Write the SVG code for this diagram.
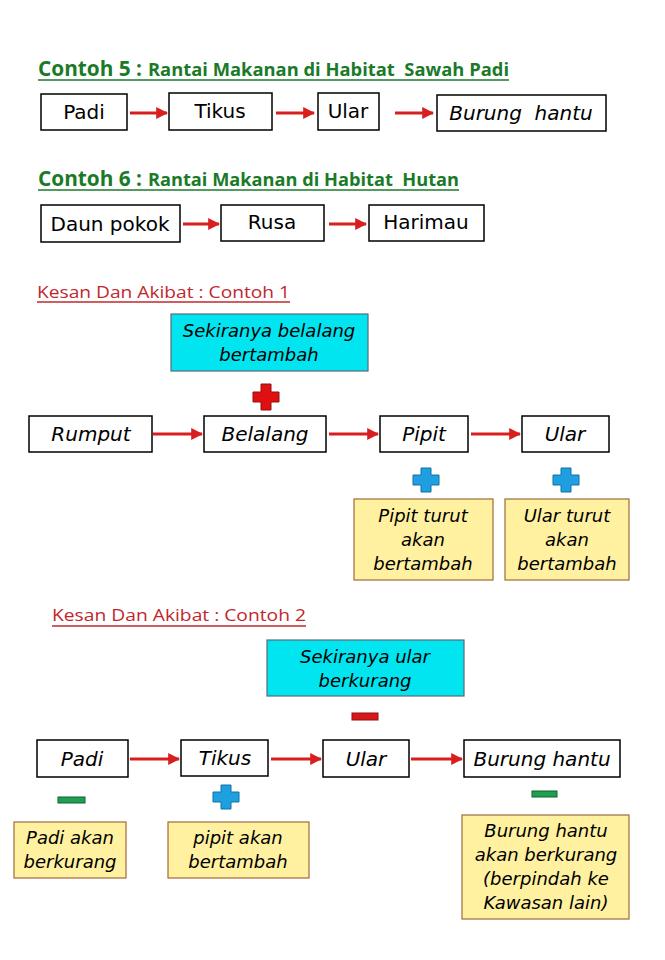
<svg xmlns="http://www.w3.org/2000/svg" width="665" height="960" viewBox="0 0 665 960">
<style>
.bg{fill:#ffffff}
.box{fill:#ffffff;stroke:#000;stroke-width:1.5}
.cyan{fill:#00e5f0;stroke:#5a6a7a;stroke-width:1.2}
.yel{fill:#fff1a0;stroke:#a06a3a;stroke-width:1.2}
.lbl{font-family:"DejaVu Sans","Open Sans",sans-serif;font-size:20px;fill:#000;text-anchor:middle;white-space:pre}
.it{font-style:italic}
.small{font-family:"DejaVu Sans","Open Sans",sans-serif;font-size:18px;fill:#000;text-anchor:middle;font-style:italic}
.green{font-family:"Open Sans","Liberation Sans",sans-serif;font-weight:bold;fill:#1a7a28;white-space:pre}
.red{font-family:"Open Sans","Liberation Sans",sans-serif;fill:#c0272d;font-size:17px}
.arrow{stroke:#d81e1e;stroke-width:3;fill:none}
.rplus{fill:#e01010;stroke:#901010;stroke-width:1}
.bplus{fill:#1ea0e0;stroke:#1070a8;stroke-width:1}
.rminus{fill:#d81818;stroke:#901010;stroke-width:1}
.gminus{fill:#1fa050;stroke:#0f6030;stroke-width:1}
</style>
<defs>
<marker id="ah" viewBox="0 0 10 10" refX="9" refY="5" markerWidth="4" markerHeight="4" orient="auto" markerUnits="strokeWidth">
<path d="M0,0 L10,5 L0,10 z" fill="#d81e1e"/>
</marker>
</defs>
<rect class="bg" x="0" y="0" width="665" height="960"/>

<g id="title1">
<text class="green" x="38" y="76" font-size="21" textLength="104" lengthAdjust="spacingAndGlyphs">Contoh 5 :</text>
<text class="green" x="148" y="76" font-size="17" textLength="361" lengthAdjust="spacingAndGlyphs" xml:space="preserve">Rantai Makanan di Habitat  Sawah Padi</text>
<line x1="38" y1="80" x2="509" y2="80" stroke="#1a7a28" stroke-width="1.5"/>
</g>
<g id="n-padi1"><rect class="box" x="41" y="94" width="86" height="36"/><text class="lbl" x="84" y="119">Padi</text></g>
<g id="n-tikus1"><rect class="box" x="169" y="93" width="103" height="37"/><text class="lbl" x="220" y="118">Tikus</text></g>
<g id="n-ular1"><rect class="box" x="318" y="93" width="61" height="37"/><text class="lbl" x="348" y="118">Ular</text></g>
<g id="n-burung1"><rect class="box" x="437" y="95" width="169" height="36"/><text class="lbl it" x="521" y="120" xml:space="preserve">Burung  hantu</text></g>

<g id="title2">
<text class="green" x="38" y="186" font-size="21" textLength="104" lengthAdjust="spacingAndGlyphs">Contoh 6 :</text>
<text class="green" x="148" y="186" font-size="17" textLength="311" lengthAdjust="spacingAndGlyphs" xml:space="preserve">Rantai Makanan di Habitat  Hutan</text>
<line x1="38" y1="190" x2="459" y2="190" stroke="#1a7a28" stroke-width="1.5"/>
</g>
<g id="n-daun"><rect class="box" x="41" y="205" width="139" height="37"/><text class="lbl" x="110" y="231">Daun pokok</text></g>
<g id="n-rusa"><rect class="box" x="221" y="205" width="103" height="36"/><text class="lbl" x="272" y="229">Rusa</text></g>
<g id="n-harimau"><rect class="box" x="369" y="205" width="115" height="36"/><text class="lbl" x="426" y="229">Harimau</text></g>

<g id="title3">
<text class="red" x="37" y="298" textLength="253" lengthAdjust="spacingAndGlyphs">Kesan Dan Akibat : Contoh 1</text>
<line x1="37" y1="302" x2="290" y2="302" stroke="#c0272d" stroke-width="1.3"/>
</g>
<g id="n-sek1"><rect class="cyan" x="171" y="314" width="197" height="57"/>
<text class="small" x="269" y="337">Sekiranya belalang</text><text class="small" x="269" y="361">bertambah</text></g>
<g id="sign-red-plus"><path class="rplus" d="M261,384 h10 v8 h8 v10 h-8 v8 h-10 v-8 h-8 v-10 h8 z"/></g>
<g id="n-rumput"><rect class="box" x="29" y="416" width="123" height="36"/><text class="lbl it" x="91" y="441">Rumput</text></g>
<g id="n-belalang"><rect class="box" x="204" y="416" width="122" height="36"/><text class="lbl it" x="265" y="441">Belalang</text></g>
<g id="n-pipit"><rect class="box" x="380" y="416" width="88" height="36"/><text class="lbl it" x="424" y="441">Pipit</text></g>
<g id="n-ular2"><rect class="box" x="522" y="416" width="87" height="36"/><text class="lbl it" x="565" y="441">Ular</text></g>
<g id="sign-blue-plus1"><path class="bplus" d="M421,468 h10 v7 h8 v10 h-8 v7 h-10 v-7 h-8 v-10 h8 z"/></g>
<g id="sign-blue-plus2"><path class="bplus" d="M561,468 h10 v7 h8 v10 h-8 v7 h-10 v-7 h-8 v-10 h8 z"/></g>
<g id="n-pipitturut"><rect class="yel" x="354" y="499" width="139" height="81"/>
<text class="small" x="423" y="522">Pipit turut</text><text class="small" x="423" y="546">akan</text><text class="small" x="423" y="570">bertambah</text></g>
<g id="n-ularturut"><rect class="yel" x="505" y="499" width="124" height="81"/>
<text class="small" x="567" y="522">Ular turut</text><text class="small" x="567" y="546">akan</text><text class="small" x="567" y="570">bertambah</text></g>

<g id="title4">
<text class="red" x="52" y="621" textLength="254" lengthAdjust="spacingAndGlyphs">Kesan Dan Akibat : Contoh 2</text>
<line x1="52" y1="626" x2="306" y2="626" stroke="#c0272d" stroke-width="1.3"/>
</g>
<g id="n-sek2"><rect class="cyan" x="267" y="640" width="197" height="56"/>
<text class="small" x="365" y="663">Sekiranya ular</text><text class="small" x="365" y="687">berkurang</text></g>
<g id="sign-red-minus"><rect class="rminus" x="352" y="713" width="26" height="7"/></g>
<g id="n-padi2"><rect class="box" x="37" y="740" width="91" height="37"/><text class="lbl it" x="82" y="766">Padi</text></g>
<g id="n-tikus2"><rect class="box" x="181" y="740" width="87" height="36"/><text class="lbl it" x="225" y="765">Tikus</text></g>
<g id="n-ular3"><rect class="box" x="323" y="740" width="86" height="37"/><text class="lbl it" x="366" y="766">Ular</text></g>
<g id="n-burung2"><rect class="box" x="464" y="740" width="156" height="37"/><text class="lbl it" x="542" y="766">Burung hantu</text></g>
<g id="sign-green-minus1"><rect class="gminus" x="58" y="797" width="27" height="6"/></g>
<g id="sign-blue-plus3"><path class="bplus" d="M221,785 h10 v7 h8 v10 h-8 v7 h-10 v-7 h-8 v-10 h8 z"/></g>
<g id="sign-green-minus2"><rect class="gminus" x="532" y="791" width="25" height="6"/></g>
<g id="n-padiakan"><rect class="yel" x="14" y="822" width="112" height="56"/>
<text class="small" x="70" y="844">Padi akan</text><text class="small" x="70" y="868">berkurang</text></g>
<g id="n-pipitakan"><rect class="yel" x="168" y="822" width="141" height="56"/>
<text class="small" x="238" y="844">pipit akan</text><text class="small" x="238" y="868">bertambah</text></g>
<g id="n-burungakan"><rect class="yel" x="462" y="815" width="167" height="104"/>
<text class="small" x="546" y="837">Burung hantu</text><text class="small" x="546" y="861">akan berkurang</text><text class="small" x="546" y="885">(berpindah ke</text><text class="small" x="546" y="909">Kawasan lain)</text></g>

<g id="connectors">
<line class="arrow" x1="130" y1="113" x2="167" y2="113" marker-end="url(#ah)"/>
<line class="arrow" x1="276" y1="113" x2="314" y2="113" marker-end="url(#ah)"/>
<line class="arrow" x1="395" y1="113" x2="433" y2="113" marker-end="url(#ah)"/>
<line class="arrow" x1="183" y1="224" x2="219" y2="224" marker-end="url(#ah)"/>
<line class="arrow" x1="329" y1="224" x2="366" y2="224" marker-end="url(#ah)"/>
<line class="arrow" x1="153" y1="434" x2="202" y2="434" marker-end="url(#ah)"/>
<line class="arrow" x1="329" y1="434" x2="378" y2="434" marker-end="url(#ah)"/>
<line class="arrow" x1="471" y1="434" x2="520" y2="434" marker-end="url(#ah)"/>
<line class="arrow" x1="130" y1="759" x2="179" y2="759" marker-end="url(#ah)"/>
<line class="arrow" x1="271" y1="759" x2="321" y2="759" marker-end="url(#ah)"/>
<line class="arrow" x1="411" y1="759" x2="462" y2="759" marker-end="url(#ah)"/>
</g>
</svg>
